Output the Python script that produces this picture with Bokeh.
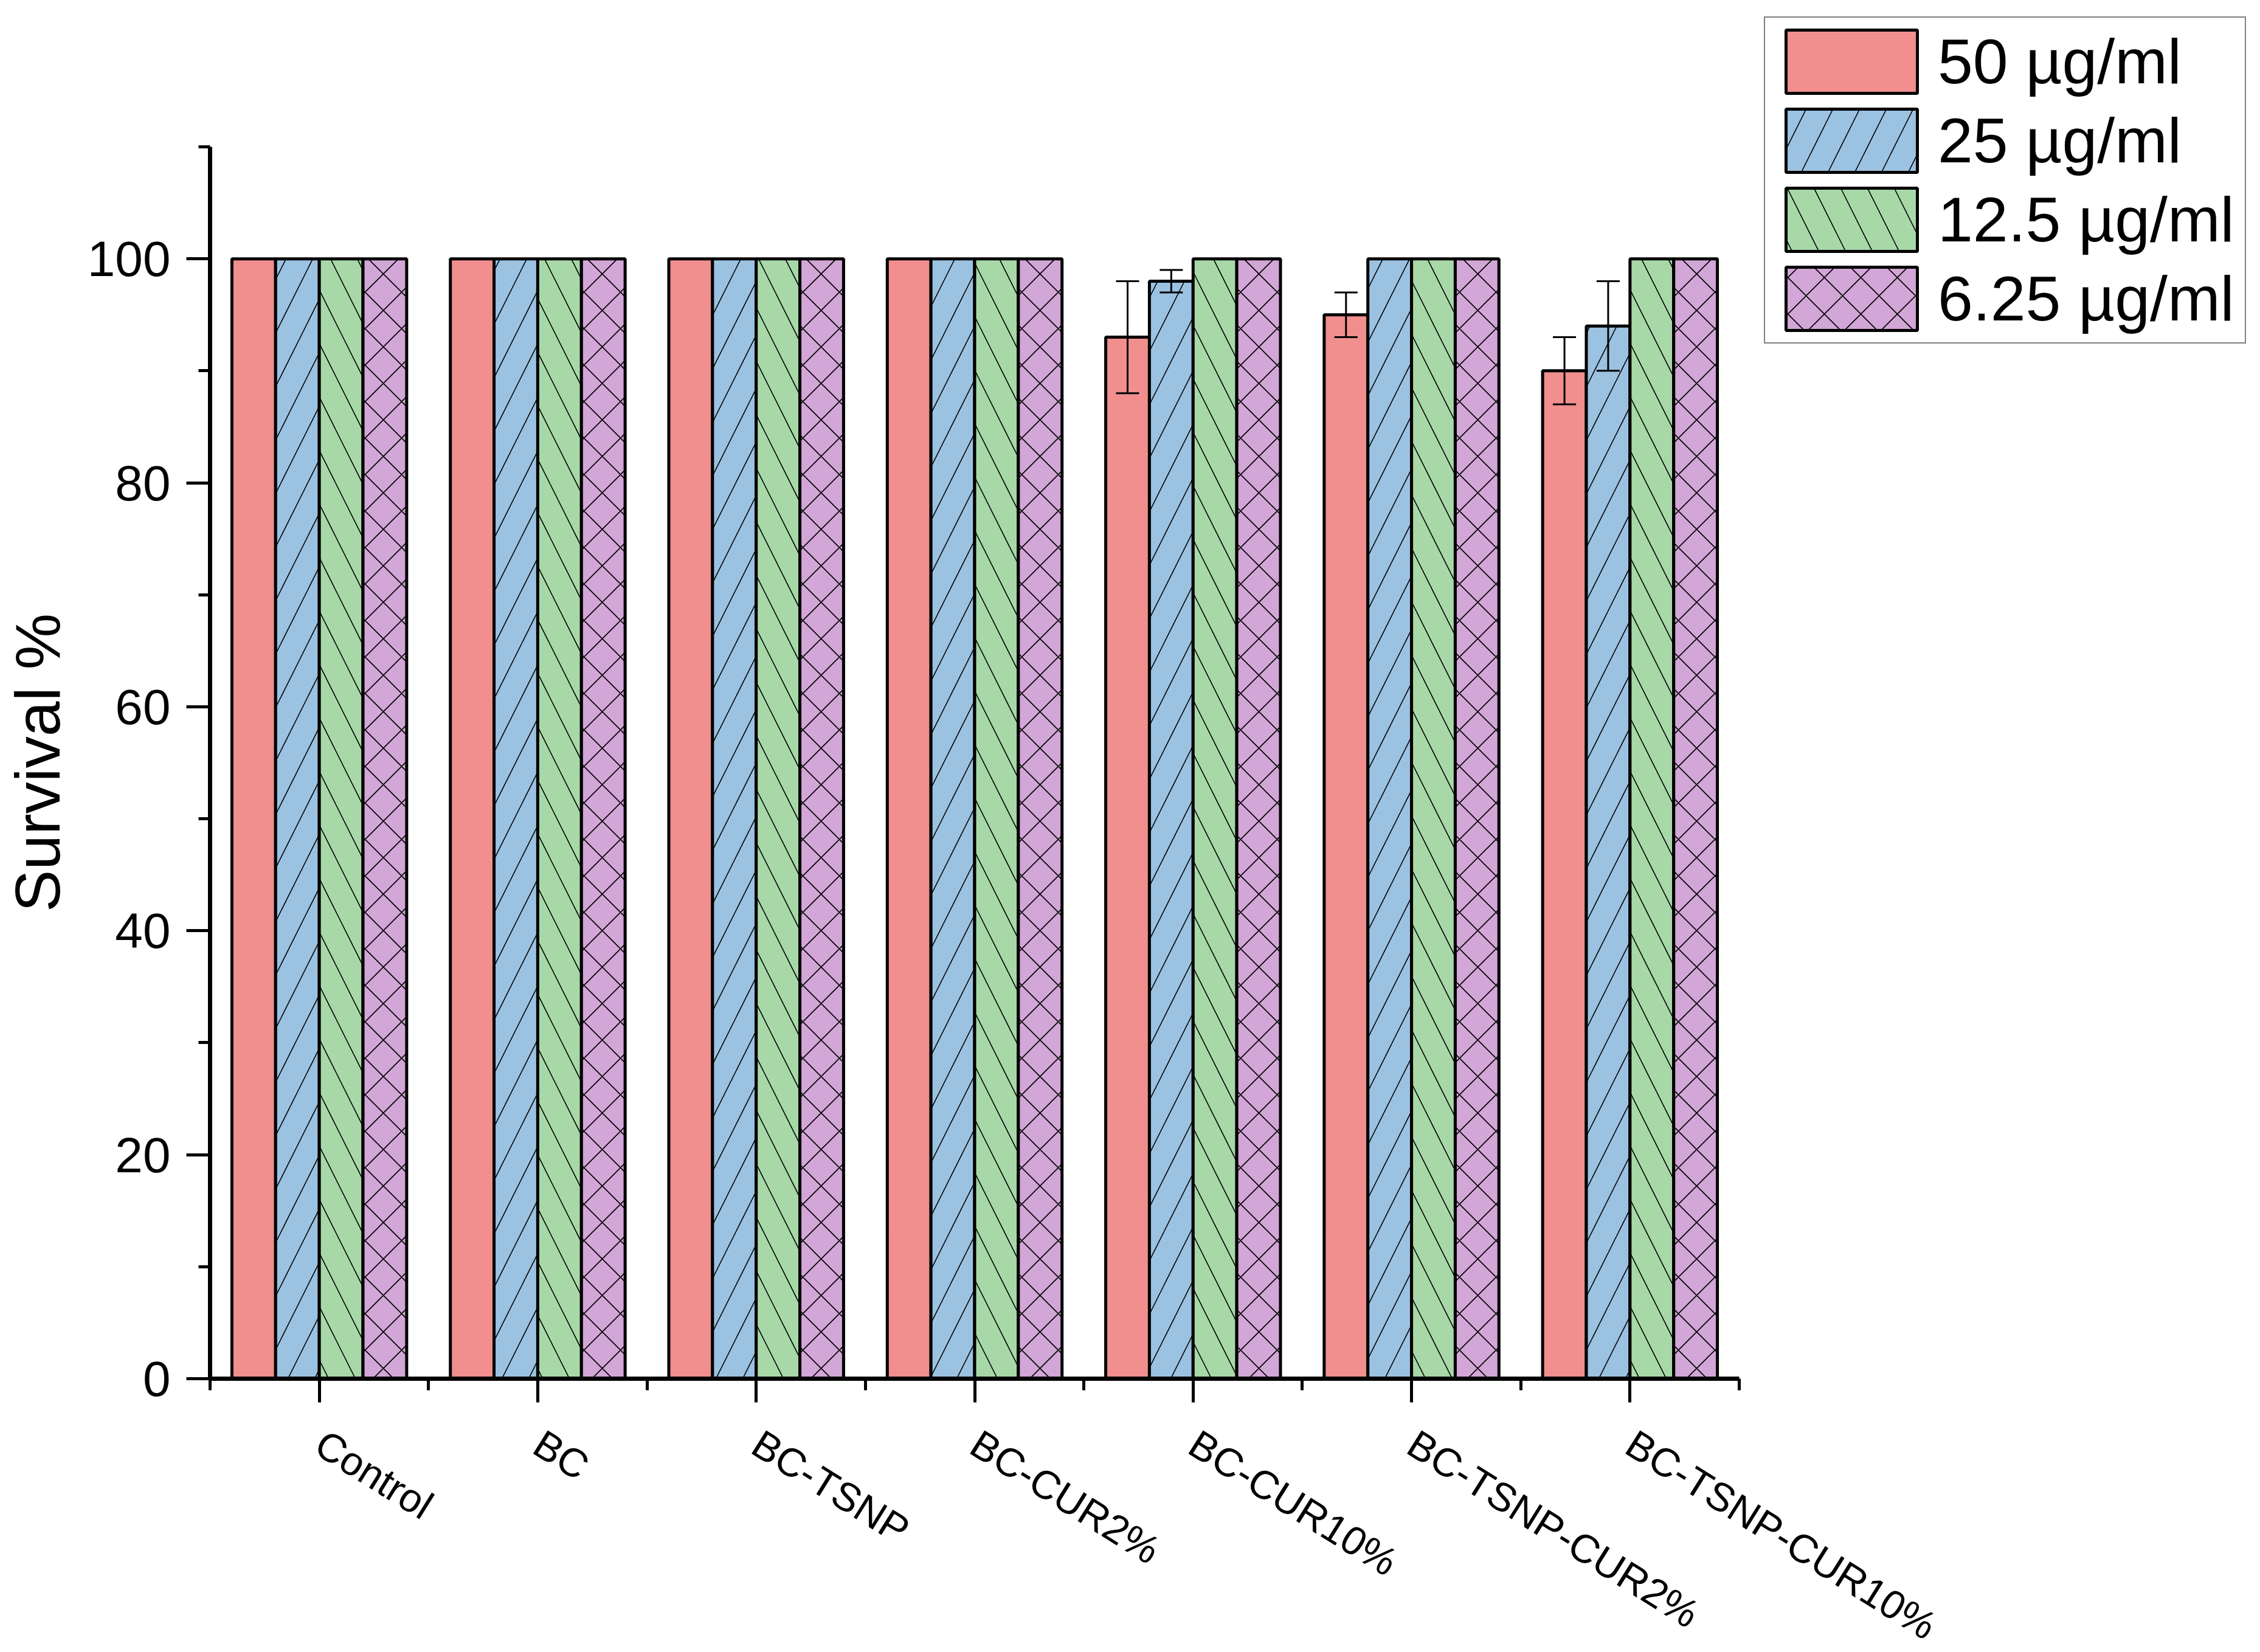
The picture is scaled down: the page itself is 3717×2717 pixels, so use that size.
import math
from bokeh.plotting import figure
from bokeh.models import (FactorRange, Range1d, LinearAxis, FixedTicker,
                          SingleIntervalTicker, ColumnDataSource, Whisker, TeeHead)
from bokeh.transform import dodge
from bokeh.embed import file_html
from bokeh.resources import INLINE

categories = ["Control", "BC", "BC-TSNP", "BC-CUR2%", "BC-CUR10%",
              "BC-TSNP-CUR2%", "BC-TSNP-CUR10%"]
series_names = ["50 µg/ml", "25 µg/ml", "12.5 µg/ml", "6.25 µg/ml"]
surv_50 = [100, 100, 100, 100, 93, 95, 90]
err_50 = [0, 0, 0, 0, 5, 2, 3]
surv_25 = [100, 100, 100, 100, 98, 100, 94]
err_25 = [0, 0, 0, 0, 1, 0, 4]
surv_12 = [100, 100, 100, 100, 100, 100, 100]
err_12 = [0, 0, 0, 0, 0, 0, 0]
surv_6 = [100, 100, 100, 100, 100, 100, 100]
err_6 = [0, 0, 0, 0, 0, 0, 0]
y_ticks_interval = 20

FONT = "Liberation Sans"
colors = ["#F18E8E", "#9CC2E1", "#A8D8A8", "#D2A6D6"]
hatches = [" ", "/", "\\", "x"]
hatch_scales = [88, 88, 88, 60]
offsets = [-0.3, -0.1, 0.1, 0.3]
values = [surv_50, surv_25, surv_12, surv_6]
errors = [err_50, err_25, err_12, err_6]

p = figure(x_range=FactorRange(*categories, range_padding=0),
           y_range=Range1d(0, 110),
           x_axis_type=None, y_axis_type=None,
           frame_width=2515, frame_height=2026,
           min_border_left=342, min_border_top=241,
           min_border_right=840, min_border_bottom=430,
           output_backend="svg", toolbar_location=None)
p.outline_line_color = None
p.background_fill_color = "white"
p.border_fill_color = "white"

for name, vals, errs, col, hat, hs, off in zip(series_names, values, errors,
                                               colors, hatches, hatch_scales,
                                               offsets):
    src = ColumnDataSource(dict(cat=categories, top=vals))
    p.vbar(x=dodge("cat", off, range=p.x_range), top="top", width=0.2,
           bottom=0, source=src, fill_color=col, line_color="black",
           line_width=5, hatch_pattern=hat, hatch_color="black",
           hatch_weight=1.6, hatch_scale=hs, legend_label=name)
    idx = [i for i, e in enumerate(errs) if e > 0]
    if idx:
        esrc = ColumnDataSource(dict(
            cat=[categories[i] for i in idx],
            upper=[vals[i] + errs[i] for i in idx],
            lower=[vals[i] - errs[i] for i in idx]))
        w = Whisker(base=dodge("cat", off, range=p.x_range), upper="upper",
                    lower="lower", source=esrc, line_color="black", line_width=3,
                    level="annotation",
                    upper_head=TeeHead(size=38, line_width=3, line_color="black"),
                    lower_head=TeeHead(size=38, line_width=3, line_color="black"))
        p.add_layout(w)

xaxis = LinearAxis(
    ticker=FixedTicker(ticks=[i + 0.5 for i in range(len(categories))],
                       minor_ticks=list(range(len(categories) + 1))),
    major_label_overrides={i + 0.5: c for i, c in enumerate(categories)})
yaxis = LinearAxis(ticker=SingleIntervalTicker(interval=y_ticks_interval,
                                               num_minor_ticks=2),
                   axis_label="Survival %")
for ax in (xaxis, yaxis):
    ax.axis_line_width = 7
    ax.axis_line_color = "black"
    ax.major_tick_line_width = 5
    ax.minor_tick_line_width = 5
    ax.major_tick_out = 39
    ax.major_tick_in = 0
    ax.minor_tick_out = 19
    ax.minor_tick_in = 0
    ax.major_label_text_font = FONT
    ax.major_label_text_color = "black"
xaxis.major_label_text_font_size = "66px"
xaxis.major_label_orientation = -math.radians(32)
xaxis.major_label_standoff = 62
yaxis.major_label_text_font_size = "82px"
yaxis.major_label_standoff = 26
yaxis.axis_label_text_font = FONT
yaxis.axis_label_text_font_size = "104px"
yaxis.axis_label_text_font_style = "normal"
yaxis.axis_label_text_color = "black"
yaxis.axis_label_standoff = 21
p.add_layout(xaxis, "below")
p.add_layout(yaxis, "left")

lg = p.legend[0]
if lg in p.center:
    p.center.remove(lg)
lg.location = (41, 1702)
lg.margin = 0
lg.padding = 7
lg.spacing = 0
lg.glyph_width = 270
lg.glyph_height = 130
lg.label_standoff = 7
lg.label_width = 498
lg.label_text_font = FONT
lg.label_text_font_size = "104px"
lg.label_text_color = "black"
lg.border_line_color = "black"
lg.border_line_width = 2
lg.background_fill_color = "white"
lg.background_fill_alpha = 1
p.add_layout(lg, "right")

open("out.html", "w").write(file_html(p, INLINE))
